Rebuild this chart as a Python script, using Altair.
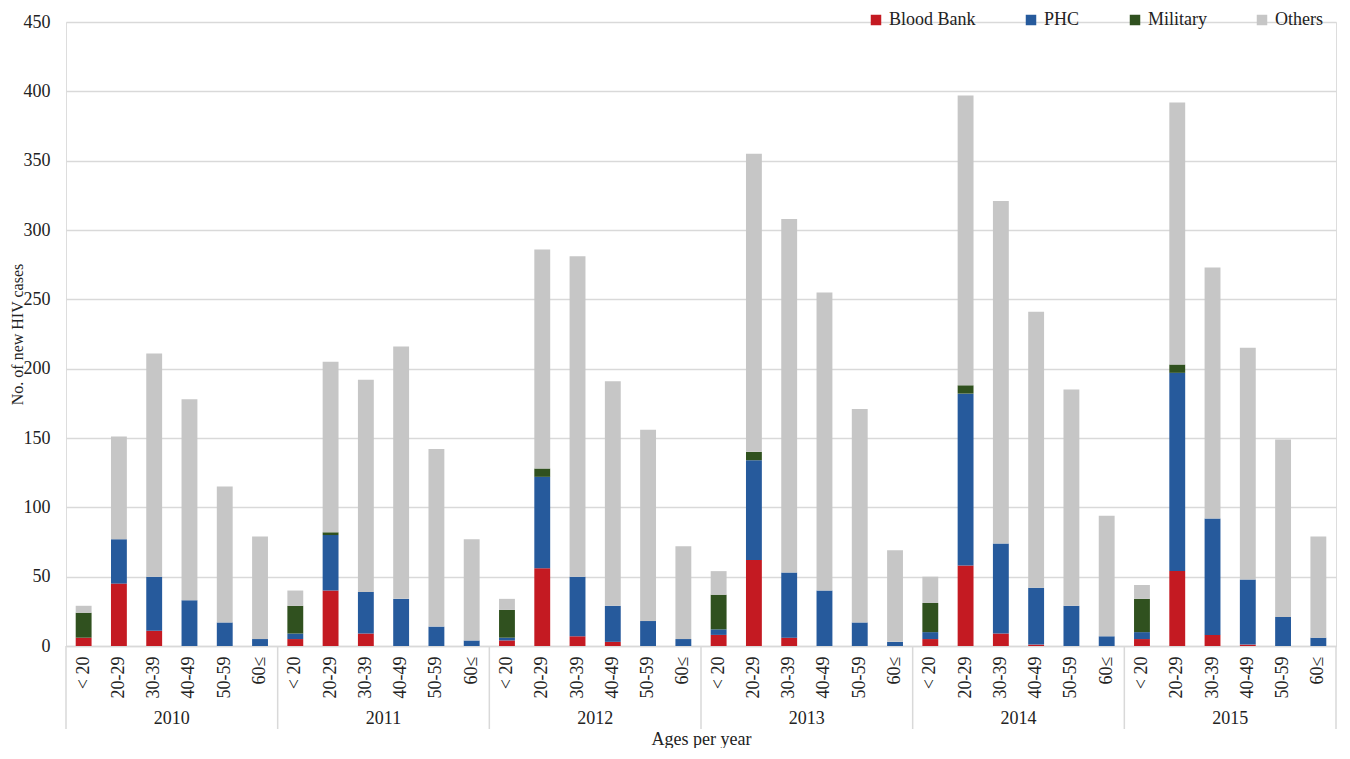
import altair as alt
import pandas as pd

years = ["2010", "2011", "2012", "2013", "2014", "2015"]
ages = ["< 20", "20-29", "30-39", "40-49", "50-59", "60≤"]
series = ["Blood Bank", "PHC", "Military", "Others"]
colors = ["#c41a22", "#265a9c", "#30511f", "#c6c6c6"]

blood_bank = [6, 45, 11, 0, 0, 0,
              5, 40, 9, 0, 0, 0,
              4, 56, 7, 3, 0, 0,
              8, 62, 6, 0, 0, 0,
              5, 58, 9, 1, 0, 0,
              5, 54, 8, 1, 0, 0]
phc = [0, 32, 39, 33, 17, 5,
       4, 40, 30, 34, 14, 4,
       2, 66, 43, 26, 18, 5,
       4, 72, 47, 40, 17, 3,
       5, 124, 65, 41, 29, 7,
       5, 143, 84, 47, 21, 6]
military = [18, 0, 0, 0, 0, 0,
            20, 2, 0, 0, 0, 0,
            20, 6, 0, 0, 0, 0,
            25, 6, 0, 0, 0, 0,
            21, 6, 0, 0, 0, 0,
            24, 6, 0, 0, 0, 0]
others = [5, 74, 161, 145, 98, 74,
          11, 123, 153, 182, 128, 73,
          8, 158, 231, 162, 138, 67,
          17, 215, 255, 215, 154, 66,
          19, 209, 247, 199, 156, 87,
          10, 189, 181, 167, 128, 73]

keys = [f"{y}|{a}" for y in years for a in ages]
values = [blood_bank, phc, military, others]

rows = []
for si, (s, vals) in enumerate(zip(series, values)):
    for k, v in zip(keys, vals):
        rows.append({"key": k, "series": s, "value": v, "order": si})
df = pd.DataFrame(rows)

year_df = pd.DataFrame({"key": [f"{y}|30-39" for y in years], "year": years})
sep_df = pd.DataFrame({"key": [f"{y}|< 20" for y in years]})
end_df = pd.DataFrame({"key": [keys[-1]]})

W, H = 1270, 624
FONT = "Liberation Serif"
TXT = "#222222"

x_scale = alt.Scale(domain=keys, paddingInner=0, paddingOuter=0)
x_axis = alt.Axis(
    title="Ages per year",
    labelExpr="split(datum.value, '|')[1]",
    labelAngle=270, labelAlign="right", labelBaseline="middle",
    labelPadding=10, labelFontSize=18, labelFont=FONT, labelColor=TXT,
    labelOverlap=False, labelBound=False,
    ticks=False, grid=False,
    domainColor="#d9d9d9", domainWidth=1.5,
    titleFont=FONT, titleFontSize=18, titleFontWeight="normal", titleColor=TXT,
    titleX=W / 2, titleY=93, titleAlign="center", titleBaseline="middle",
)


def xenc(band=0.5):
    return alt.X("key:N", scale=x_scale, axis=x_axis, bandPosition=band)


bars = alt.Chart(df).mark_bar(width=alt.RelativeBandSize(0.45)).encode(
    x=alt.X("key:N", scale=x_scale, axis=x_axis),
    y=alt.Y("value:Q", stack="zero",
            scale=alt.Scale(domain=[0, 450], nice=False),
            axis=alt.Axis(
                values=list(range(0, 451, 50)),
                title="No. of new HIV cases",
                domain=False, ticks=False, grid=True,
                gridColor="#d9d9d9", gridWidth=1.5,
                labelPadding=16, labelFontSize=18, labelFont=FONT, labelColor=TXT,
                titleFont=FONT, titleFontSize=16, titleFontWeight="normal",
                titleColor=TXT, titleAngle=270, titleX=-49, titleY=H / 2,
                titleAlign="center", titleBaseline="middle",
            )),
    color=alt.Color("series:N",
                    scale=alt.Scale(domain=series, range=colors),
                    legend=alt.Legend(
                        orient="none", legendX=801, legendY=-11,
                        direction="horizontal", title=None,
                        symbolType="square", symbolSize=110, symbolStrokeWidth=0,
                        labelFont=FONT, labelFontSize=18, labelColor=TXT,
                        labelOffset=4, columnPadding=46, padding=0,
                    )),
    order=alt.Order("order:Q", sort="ascending"),
)

year_text = alt.Chart(year_df).mark_text(
    font=FONT, fontSize=18, color=TXT, baseline="middle", align="center"
).encode(
    x=xenc(1),
    y=alt.value(H + 73),
    text="year:N",
)

seps = alt.Chart(sep_df).mark_rule(color="#d9d9d9", strokeWidth=1.5).encode(
    x=xenc(0),
    y=alt.value(H),
    y2=alt.value(H + 83),
)

end_sep = alt.Chart(end_df).mark_rule(color="#d9d9d9", strokeWidth=1.5).encode(
    x=xenc(1),
    y=alt.value(H),
    y2=alt.value(H + 83),
)

chart = alt.layer(bars, seps, end_sep, year_text).properties(
    width=W, height=H,
    autosize=alt.AutoSizeParams(type="none"),
    padding={"left": 58, "top": 14, "right": 2, "bottom": 102},
).configure_view(stroke=None).configure(font=FONT)

chart.save("out.html", embed_options={"renderer": "svg", "actions": False})
